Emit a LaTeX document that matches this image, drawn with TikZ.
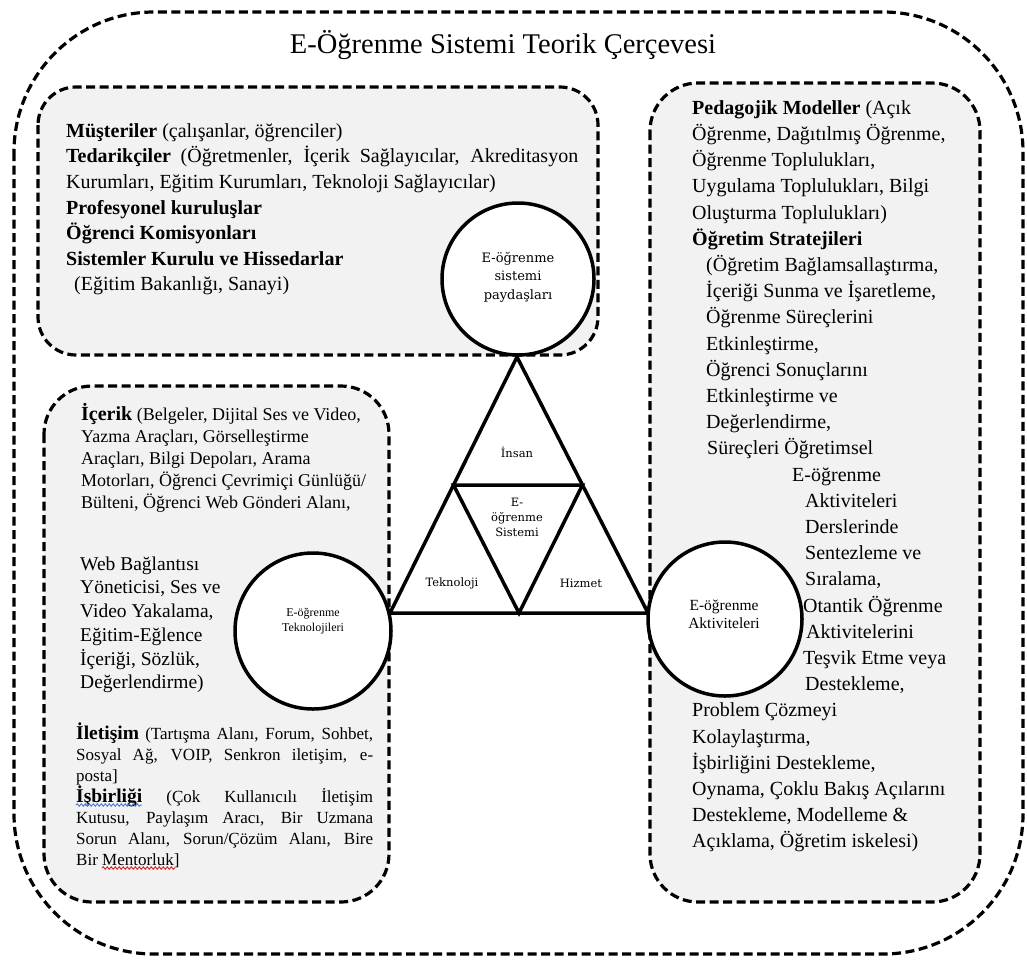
\documentclass[tikz,border=0pt]{standalone}
\usepackage{fontspec}
\setmainfont{Liberation Serif}
\newfontfamily\trifont{DejaVu Serif}
\usetikzlibrary{decorations.pathmorphing}
\definecolor{boxgray}{HTML}{F2F2F2}
\definecolor{wavyblue}{HTML}{4A7BD0}
\definecolor{wavyred}{HTML}{E02020}
\newcommand\tightlines{\lineskiplimit=-30pt\relax}
\begin{document}
\begin{tikzpicture}[x=1pt,y=-1pt,
  dashline/.style={draw=black, line width=3.2pt, dash pattern=on 9pt off 4.5pt},
  graybox/.style={dashline, fill=boxgray},
  ring/.style={circle, draw=black, line width=3.5pt, fill=white, inner sep=0pt},
  triline/.style={draw=black, line width=3.5pt, line join=miter},
  txt/.style={anchor=north west, inner sep=0pt, align=left},
  trilabel/.style={inner sep=0pt, align=center, font=\trifont\fontsize{11.5}{15}\selectfont},
  wavy/.style={line width=0.9pt, decorate, decoration={snake, amplitude=1.2pt, segment length=4pt}},
]
\useasboundingbox (0,0) rectangle (1027,959);
\fill[white] (0,0) rectangle (1027,959);

% outer frame
\draw[dashline, rounded corners=140pt] (14,12) rectangle (1023,954);
\node[inner sep=0pt, font=\fontsize{28.5}{30}\selectfont] (title) at (503,45) {E-Öğrenme Sistemi Teorik Çerçevesi};

% gray boxes
\path[graybox, rounded corners=38pt] (38,87) rectangle (598,355);
\path[graybox, rounded corners=48pt] (44,386) rectangle (389,902);
\path[graybox, rounded corners=48pt] (650,83) rectangle (980,902);

% triangle
\coordinate (ap) at (517,357);
\coordinate (bl) at (390,613);
\coordinate (br) at (648,613);
\coordinate (ml) at (453.5,485);
\coordinate (mr) at (582.5,485);
\coordinate (mb) at (519,613);
\draw[triline] (ap) -- (bl) -- (br) -- cycle;
\draw[triline] (ml) -- (mr) -- (mb) -- cycle;
\node[trilabel] (insan) at (517,452) {İnsan};
\node[trilabel] (core) at (517,517) {E-\\öğrenme\\Sistemi};
\node[trilabel] (tekno) at (452,583) {Teknoloji};
\node[trilabel] (hizmet) at (581,583) {Hizmet};

% circles
\node[ring, minimum size=152pt] (stake) at (518,279) {};
\node[ring, minimum size=156pt] (tech) at (313,631) {};
\node[ring, minimum size=154pt] (act) at (725,619) {};
\node[inner sep=0pt, align=center, font=\trifont\fontsize{13}{18.5}\selectfont] (stakelbl) at (518,277) {E-öğrenme\\sistemi\\paydaşları};
\node[inner sep=0pt, align=center, font=\fontsize{12}{15}\selectfont] (techlbl) at (313,621) {E-öğrenme\\Teknolojileri};
\node[inner sep=0pt, align=center, font=\fontsize{15.5}{18}\selectfont] (actlbl) at (724,614) {E-öğrenme\\Aktiviteleri};

% top box text
\node[txt, font={\fontsize{20}{25.6}\selectfont\tightlines}] (toptext) at (66,117) {\rule{0pt}{20pt}\textbf{Müşteriler} (çalışanlar, öğrenciler)\\
\makebox[512pt][s]{\textbf{Tedarikçiler} (Öğretmenler, İçerik Sağlayıcılar, Akreditasyon}\\
Kurumları, Eğitim Kurumları, Teknoloji Sağlayıcılar)\\
\textbf{Profesyonel kuruluşlar}\\
\textbf{Öğrenci Komisyonları}\\
\textbf{Sistemler Kurulu ve Hissedarlar}\\
\hspace*{8pt}(Eğitim Bakanlığı, Sanayi)};

% right box text
\node[txt, font={\fontsize{20}{26.2}\selectfont\tightlines}] (righttext) at (692,94) {\rule{0pt}{20pt}\textbf{Pedagojik Modeller} (Açık\\
Öğrenme, Dağıtılmış Öğrenme,\\
Öğrenme Toplulukları,\\
Uygulama Toplulukları, Bilgi\\
Oluşturma Toplulukları)\\
\textbf{Öğretim Stratejileri}\\
\hspace*{14pt}(Öğretim Bağlamsallaştırma,\\
\hspace*{14pt}İçeriği Sunma ve İşaretleme,\\
\hspace*{14pt}Öğrenme Süreçlerini\\
\hspace*{14pt}Etkinleştirme,\\
\hspace*{14pt}Öğrenci Sonuçlarını\\
\hspace*{14pt}Etkinleştirme ve\\
\hspace*{14pt}Değerlendirme,\\
\hspace*{15pt}Süreçleri Öğretimsel\\
\hspace*{100pt}E-öğrenme\\
\hspace*{113pt}Aktiviteleri\\
\hspace*{113pt}Derslerinde\\
\hspace*{113pt}Sentezleme ve\\
\hspace*{113pt}Sıralama,\\
\hspace*{111pt}Otantik Öğrenme\\
\hspace*{114pt}Aktivitelerini\\
\hspace*{111pt}Teşvik Etme veya\\
\hspace*{113pt}Destekleme,\\
Problem Çözmeyi\\
Kolaylaştırma,\\
İşbirliğini Destekleme,\\
Oynama, Çoklu Bakış Açılarını\\
Destekleme, Modelleme \&\\
Açıklama, Öğretim iskelesi)};

% left box text
\node[txt, font={\fontsize{18}{22}\selectfont\tightlines}] (contenttext) at (81,400) {\rule{0pt}{20pt}\textbf{\fontsize{20}{22}\selectfont İçerik} (Belgeler, Dijital Ses ve Video,\\
Yazma Araçları, Görselleştirme\\
Araçları, Bilgi Depoları, Arama\\
Motorları, Öğrenci Çevrimiçi Günlüğü/\\
Bülteni, Öğrenci Web Gönderi Alanı,};

\node[txt, font={\fontsize{19.5}{23.7}\selectfont\tightlines}] (webtext) at (80,553) {\rule{0pt}{17pt}Web Bağlantısı\\
Yöneticisi, Ses ve\\
Video Yakalama,\\
Eğitim-Eğlence\\
İçeriği, Sözlük,\\
Değerlendirme)};

\node[txt, font={\fontsize{17}{21}\selectfont\tightlines}] (commtext) at (76,719) {\rule{0pt}{20pt}\makebox[297pt][s]{\textbf{\fontsize{19.5}{21}\selectfont İletişim} (Tartışma Alanı, Forum, Sohbet,}\\
\makebox[297pt][s]{Sosyal Ağ, VOIP, Senkron iletişim, e-}\\
posta]\\
\makebox[297pt][s]{\textbf{\fontsize{19.5}{21}\selectfont İşbirliği} (Çok Kullanıcılı İletişim}\\
\makebox[297pt][s]{Kutusu, Paylaşım Aracı, Bir Uzmana}\\
\makebox[297pt][s]{Sorun Alanı, Sorun/Çözüm Alanı, Bire}\\
Bir Mentorluk]};

% spell-check underlines
\coordinate (wb1) at (76,805);
\coordinate (wb2) at (142,805);
\coordinate (wr1) at (102,868);
\coordinate (wr2) at (175,868);
\draw[wavy, wavyblue] (wb1) -- (wb2);
\draw[wavy, wavyred] (wr1) -- (wr2);
\end{tikzpicture}
\end{document}
